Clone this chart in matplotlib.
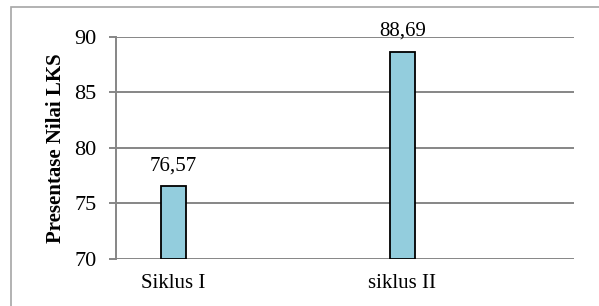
import matplotlib
matplotlib.use("Agg")
import matplotlib.pyplot as plt
from matplotlib.patches import Rectangle

# data
categories = ["Siklus I", "siklus II"]
values = [76.57, 88.69]
labels = ["76,57", "88,69"]
yticks = [70, 75, 80, 85, 90]

plt.rcParams["font.family"] = ["Liberation Serif", "DejaVu Serif"]

fig = plt.figure(figsize=(5.99, 3.06), dpi=100)
W, H = 599, 306
ax = fig.add_axes([116 / W, 1 - 259 / H, (574 - 116) / W, (259 - 37) / H])

# outer chart frame (runs off the right and bottom edges)
fig.patches.append(Rectangle((11 / W, -0.1), 1.0, 1 - 7 / H + 0.1,
                             transform=fig.transFigure, fill=False,
                             ec="#a6a6a6", lw=1.2, zorder=0))

x = range(len(categories))
ax.bar(x, [v - 70 for v in values], bottom=70, width=0.11,
       color="#93CDDD", edgecolor="black", lw=1.3, zorder=3)
for i, (v, t) in enumerate(zip(values, labels)):
    ax.text(i, v + 1.4, t, ha="center", va="baseline", fontsize=15)

ax.set_xlim(-0.25, 1.75)
ax.set_ylim(70, 90)
ax.set_yticks(yticks)
ax.set_xticks(list(x))
ax.set_xticklabels(categories)
ax.yaxis.grid(True, color="#868686", lw=1.4, zorder=0)
ax.set_axisbelow(True)
for s in ("top", "right", "bottom"):
    ax.spines[s].set_visible(False)
ax.spines["left"].set_color("#868686")
ax.spines["left"].set_linewidth(1.4)
ax.tick_params(axis="y", length=5, width=1.4, color="#868686", labelsize=16, pad=9)
ax.tick_params(axis="x", length=0, labelsize=15, pad=11)
ax.set_ylabel("Presentase Nilai LKS", fontsize=15, fontweight="bold", labelpad=6)

fig.savefig("out.png", dpi=100)
